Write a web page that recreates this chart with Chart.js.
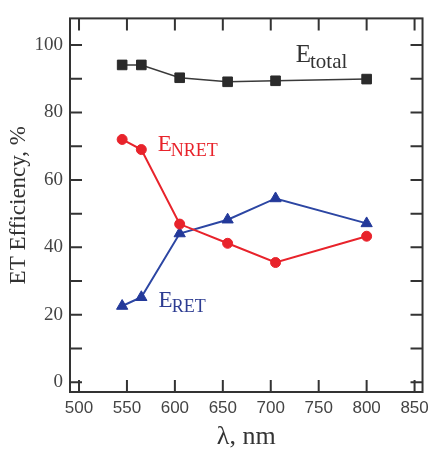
<!DOCTYPE html>
<html>
<head>
<meta charset="utf-8">
<script src="https://cdn.jsdelivr.net/npm/chart.js@4.4.1/dist/chart.umd.min.js"></script>
<style>
  html, body { margin: 0; padding: 0; background: #fff; }
  #chart { display: block; }
</style>
</head>
<body>
<canvas id="chart" width="435" height="449"></canvas>
<script>
// values
const wavelengths = [545, 565, 605, 655, 705, 800];
const eTotal = [94.1, 94.1, 90.3, 89.1, 89.4, 89.9];
const eNret = [72.0, 69.0, 46.9, 41.2, 35.5, 43.3];
const eRet = [22.6, 25.2, 44.1, 48.2, 54.5, 47.1];

const xTicks = [500, 550, 600, 650, 700, 750, 800, 850];
const yTicks = [0, 20, 40, 60, 80, 100];
const yMinorTicks = [10, 30, 50, 70, 90];

const FRAME = '#333333';
const RED = '#e8232b';
const BLUE = '#2c46a3';

// in-plot series labels, anchored in data units
const seriesLabels = [
  { main: 'E', sub: 'total', x: 726, y: 95.0, color: '#333333', size: 25, subSize: 21, drop: 6 },
  { main: 'E', sub: 'NRET', x: 582, y: 68.6, color: RED, size: 23, subSize: 18, drop: 5 },
  { main: 'E', sub: 'RET', x: 583, y: 22.3, color: '#2e3d92', size: 23, subSize: 18, drop: 5 }
];

const toPoints = (ys) => wavelengths.map((x, i) => ({ x: x, y: ys[i] }));

const frameTicks = {
  id: 'frameTicks',
  beforeDatasetsDraw(chart) {
    const { ctx, chartArea: a, scales: { x, y } } = chart;
    const len = 12;
    ctx.save();
    ctx.strokeStyle = FRAME;
    ctx.lineWidth = 2;
    ctx.beginPath();
    xTicks.forEach(v => {
      const px = x.getPixelForValue(v);
      ctx.moveTo(px, a.bottom); ctx.lineTo(px, a.bottom - len);
      ctx.moveTo(px, a.top); ctx.lineTo(px, a.top + len);
    });
    yTicks.concat(yMinorTicks).forEach(v => {
      const py = y.getPixelForValue(v);
      ctx.moveTo(a.left, py); ctx.lineTo(a.left + len, py);
      ctx.moveTo(a.right, py); ctx.lineTo(a.right - len, py);
    });
    ctx.stroke();
    ctx.strokeRect(a.left, a.top, a.right - a.left, a.bottom - a.top);
    ctx.restore();
  },
  afterDatasetsDraw(chart) {
    const { ctx, scales: { x, y } } = chart;
    ctx.save();
    ctx.textBaseline = 'alphabetic';
    ctx.textAlign = 'left';
    seriesLabels.forEach(l => {
      const px = x.getPixelForValue(l.x);
      const py = y.getPixelForValue(l.y);
      ctx.fillStyle = l.color;
      ctx.font = l.size + 'px "Liberation Serif"';
      ctx.fillText(l.main, px, py);
      const w = ctx.measureText(l.main).width;
      ctx.font = l.subSize + 'px "Liberation Serif"';
      ctx.fillText(l.sub, px + w - 1, py + l.drop);
    });
    ctx.restore();
  }
};

new Chart(document.getElementById('chart'), {
  type: 'line',
  data: {
    datasets: [
      {
        label: 'E total',
        data: toPoints(eTotal),
        borderColor: '#3a3a3a',
        backgroundColor: '#2b2b2b',
        borderWidth: 1.5,
        pointStyle: 'rect',
        pointRadius: 6.8,
        pointBorderWidth: 1,
        pointBorderColor: '#2b2b2b'
      },
      {
        label: 'E NRET',
        data: toPoints(eNret),
        borderColor: RED,
        backgroundColor: RED,
        borderWidth: 2,
        pointStyle: 'circle',
        pointRadius: 5,
        pointBorderWidth: 1
      },
      {
        label: 'E RET',
        data: toPoints(eRet),
        borderColor: BLUE,
        backgroundColor: '#23399a',
        borderWidth: 2,
        pointStyle: 'triangle',
        pointRadius: 6.5,
        pointBorderWidth: 1,
        pointBorderColor: '#23399a'
      }
    ]
  },
  options: {
    responsive: false,
    animation: false,
    layout: { padding: { top: 14, right: 11, left: 0, bottom: 0 } },
    plugins: { legend: { display: false }, tooltip: { enabled: false } },
    scales: {
      x: {
        type: 'linear',
        min: 490.6,
        max: 858.3,
        grid: { display: false, drawTicks: false },
        border: { display: false },
        afterBuildTicks: (s) => { s.ticks = xTicks.map(v => ({ value: v })); },
        afterFit: (s) => { s.height = 57; },
        ticks: {
          padding: 6,
          color: '#444',
          autoSkip: false,
          maxRotation: 0,
          font: { family: '"Liberation Sans"', size: 17 }
        },
        title: {
          display: true,
          text: 'λ, nm',
          color: '#333',
          padding: { top: 0, bottom: 0 },
          font: { family: '"Liberation Serif"', size: 26, lineHeight: 0.9 }
        }
      },
      y: {
        min: -2.9,
        max: 107.9,
        grid: { display: false, drawTicks: false },
        border: { display: false },
        afterBuildTicks: (s) => { s.ticks = yTicks.map(v => ({ value: v })); },
        afterFit: (s) => { s.width = 70; },
        ticks: {
          padding: 7,
          color: '#444',
          font: { family: '"Liberation Serif"', size: 19 }
        },
        title: {
          display: true,
          text: 'ET Efficiency, %',
          color: '#333',
          padding: { top: 5, bottom: 0 },
          font: { family: '"Liberation Serif"', size: 23 }
        }
      }
    }
  },
  plugins: [frameTicks]
});
</script>
</body>
</html>
